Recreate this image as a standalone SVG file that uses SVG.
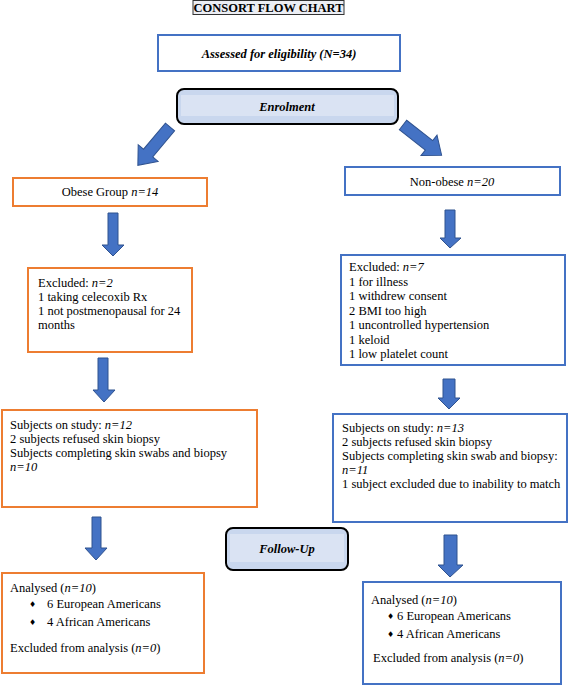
<svg xmlns="http://www.w3.org/2000/svg" width="570" height="685" viewBox="0 0 570 685">
<style>
text{font-family:"Liberation Serif","Times New Roman",serif;font-size:12.5px;fill:#000}
.bi{font-weight:bold;font-style:italic}
.i{font-style:italic}
.blue{fill:#fff;stroke:#4472C4;stroke-width:2}
.orange{fill:#fff;stroke:#ED7D31;stroke-width:2}
.phase{fill:#c9d7ee;stroke:#000;stroke-width:2}
.band{fill:#dae3f3}
.arr{fill:#4472C4;stroke:#2F528F;stroke-width:1}
.bul{font-family:"DejaVu Sans",sans-serif;font-size:8px}
</style>
<rect width="570" height="685" fill="#fff"/>
<g id="title">
<rect x="193" y="0.5" width="151" height="14" fill="#eceef4" stroke="#333" stroke-width="1"/>
<text x="268.5" y="12" text-anchor="middle" font-weight="bold" font-size="12">CONSORT FLOW CHART</text>
</g>
<g id="connectors">
<path class="arr" transform="translate(170,127) rotate(40)" d="M-6 0 L6 0 L6 34 L13 34 L0 50 L-13 34 L-6 34 Z"/>
<path class="arr" transform="translate(403,125) rotate(-52)" d="M-6 0 L6 0 L6 33 L13 33 L0 49 L-13 33 L-6 33 Z"/>
<path class="arr" d="M108 213 L118 213 L118 245 L124 245 L113 256 L102 245 L108 245 Z"/>
<path class="arr" d="M98 358 L108 358 L108 390 L115 390 L104 402 L93 390 L98 390 Z"/>
<path class="arr" d="M92 517 L101 517 L101 548 L107 548 L96 560 L85 548 L92 548 Z"/>
<path class="arr" d="M445 210 L455 210 L455 238 L461 238 L450 248 L440 238 L445 238 Z"/>
<path class="arr" d="M443 379 L455 379 L455 398 L460 398 L449 409 L438 398 L443 398 Z"/>
<path class="arr" d="M444 535 L457 535 L457 565 L463 565 L450 577 L438 565 L444 565 Z"/>
</g>
<g id="assessed">
<rect class="blue" x="158" y="35" width="242" height="36"/>
<text x="279" y="58" text-anchor="middle" class="bi" font-size="14">Assessed for eligibility (N=34)</text>
</g>
<g id="enrolment">
<rect class="phase" x="177" y="89" width="221" height="35" rx="7"/>
<rect class="band" x="181" y="95" width="213" height="21"/>
<text x="287" y="111" text-anchor="middle" class="bi" font-size="14">Enrolment</text>
</g>
<g id="obese">
<rect class="orange" x="13" y="178" width="194" height="28"/>
<text x="110" y="196" text-anchor="middle">Obese Group <tspan class="i">n=14</tspan></text>
</g>
<g id="nonobese">
<rect class="blue" x="345" y="167" width="215" height="28"/>
<text x="452" y="186" text-anchor="middle">Non-obese <tspan class="i">n=20</tspan></text>
</g>
<g id="excluded-obese">
<rect class="orange" x="28" y="268" width="164" height="84"/>
<text x="38" y="287">Excluded: <tspan class="i">n=2</tspan></text>
<text x="38" y="301">1 taking celecoxib Rx</text>
<text x="38" y="315">1 not postmenopausal for 24</text>
<text x="38" y="329">months</text>
</g>
<g id="excluded-nonobese">
<rect class="blue" x="341" y="255" width="224" height="110"/>
<text x="349" y="271">Excluded: <tspan class="i">n=7</tspan></text>
<text x="349" y="285.5">1 for illness</text>
<text x="349" y="300">1 withdrew consent</text>
<text x="349" y="314.5">2 BMI too high</text>
<text x="349" y="329">1 uncontrolled hypertension</text>
<text x="349" y="343.5">1 keloid</text>
<text x="349" y="358">1 low platelet count</text>
</g>
<g id="study-obese">
<rect class="orange" x="2" y="410" width="255" height="97"/>
<text x="10" y="429">Subjects on study: <tspan class="i">n=12</tspan></text>
<text x="10" y="443">2 subjects refused skin biopsy</text>
<text x="10" y="457">Subjects completing skin swabs and biopsy</text>
<text x="10" y="471" class="i">n=10</text>
</g>
<g id="study-nonobese">
<rect class="blue" x="333" y="414" width="234" height="108"/>
<text x="342" y="432">Subjects on study: <tspan class="i">n=13</tspan></text>
<text x="342" y="446">2 subjects refused skin biopsy</text>
<text x="342" y="460">Subjects completing skin swab and biopsy:</text>
<text x="342" y="474" class="i">n=11</text>
<text x="342" y="488">1 subject excluded due to inability to match</text>
</g>
<g id="followup">
<rect class="phase" x="226" y="528" width="122" height="42" rx="7"/>
<rect class="band" x="230" y="534" width="114" height="28"/>
<text x="287" y="553" text-anchor="middle" class="bi" font-size="13">Follow-Up</text>
</g>
<g id="analysed-obese">
<rect class="orange" x="2" y="573" width="202" height="100"/>
<text x="10" y="592">Analysed (<tspan class="i">n=10</tspan>)</text>
<text x="29" y="607" class="bul">♦</text>
<text x="47" y="608">6 European Americans</text>
<text x="29" y="625" class="bul">♦</text>
<text x="47" y="626">4 African Americans</text>
<text x="10" y="652">Excluded from analysis (<tspan class="i">n=0</tspan>)</text>
</g>
<g id="analysed-nonobese">
<rect class="blue" x="363" y="582" width="198" height="102"/>
<text x="371" y="604">Analysed (<tspan class="i">n=10</tspan>)</text>
<text x="387" y="619" class="bul">♦</text>
<text x="397" y="620">6 European Americans</text>
<text x="387" y="637" class="bul">♦</text>
<text x="397" y="638">4 African Americans</text>
<text x="373" y="662">Excluded from analysis (<tspan class="i">n=0</tspan>)</text>
</g>
</svg>
